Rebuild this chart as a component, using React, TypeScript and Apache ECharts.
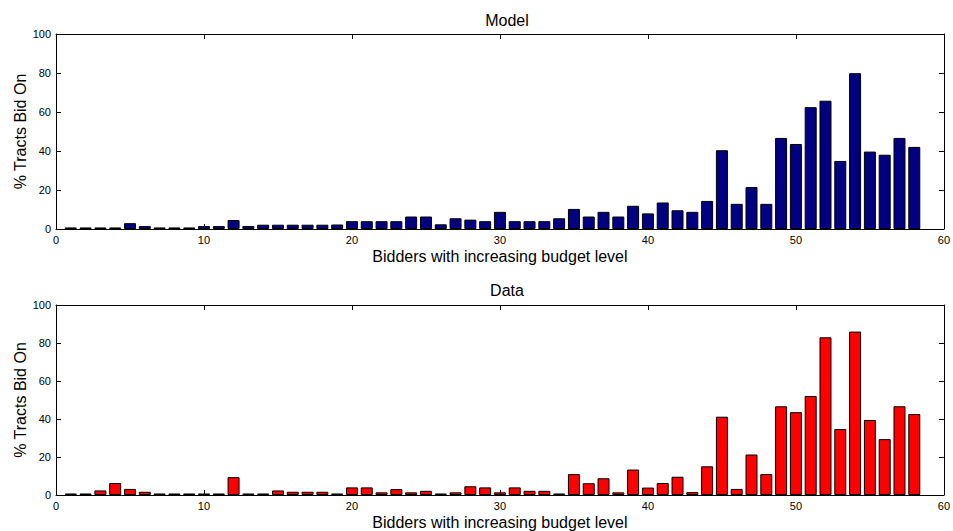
import React, { useEffect, useRef } from "react";
import * as echarts from "echarts";

const bidders = [
  1, 2, 3, 4, 5, 6, 7, 8, 9, 10, 11, 12, 13, 14, 15, 16, 17, 18, 19, 20,
  21, 22, 23, 24, 25, 26, 27, 28, 29, 30, 31, 32, 33, 34, 35, 36, 37, 38, 39, 40,
  41, 42, 43, 44, 45, 46, 47, 48, 49, 50, 51, 52, 53, 54, 55, 56, 57, 58,
];

const modelValues = [
  0.8, 0.8, 0.8, 0.8, 3, 1.5, 0.8, 0.8, 0.8, 1.5, 1.5, 4.6, 1.5, 2.2, 2.2, 2.2, 2.2, 2.2, 2.3, 4,
  4, 4, 4, 6.4, 6.4, 2.4, 5.5, 4.8, 4, 8.8, 4, 4, 4, 5.5, 10.3, 6.4, 8.8, 6.4, 11.9, 8,
  13.6, 9.6, 8.8, 14.4, 40.4, 12.9, 21.5, 12.9, 46.7, 43.6, 62.5, 65.8, 34.9, 79.9, 39.7, 38.1, 46.7, 42.1,
];

const dataValues = [
  0.8, 0.8, 2.4, 6.3, 3.2, 1.7, 0.8, 0.8, 0.8, 0.8, 0.8, 9.4, 0.8, 0.8, 2.4, 1.7, 1.7, 1.7, 0.8, 4,
  4, 1.4, 3.1, 1.4, 2.2, 0.8, 1.4, 4.6, 4, 1.4, 4, 2.2, 2.2, 0.8, 11, 6.2, 8.8, 1.4, 13.4, 3.9,
  6.3, 9.6, 1.5, 15.1, 41.2, 3.2, 21.3, 11, 46.7, 43.6, 52.1, 83, 34.7, 86, 39.5, 29.4, 46.7, 42.6,
];

const titles = ["Model", "Data"];
const xAxisName = "Bidders with increasing budget level";
const yAxisName = "% Tracts Bid On";

const FONT = "'Liberation Sans', Arial, Helvetica, sans-serif";

export default function App() {
  const ref = useRef<HTMLDivElement>(null);

  useEffect(() => {
    if (!ref.current) return;
    const chart = echarts.init(ref.current, null, { renderer: "svg" });

    const grids = [
      { left: 56, right: 4, top: 34, height: 195 },
      { left: 56, right: 4, top: 305, height: 194 },
    ];

    const axisLine = { show: true, onZero: false, lineStyle: { color: "#000", width: 1 } };
    const tick = { show: true, inside: true, length: 5, lineStyle: { color: "#000" } };
    const label = { fontSize: 11, color: "#000", fontFamily: FONT };
    const nameStyle = { fontSize: 16, color: "#000", fontFamily: FONT };

    const xAxes: any[] = [];
    const yAxes: any[] = [];
    [0, 1].forEach((g) => {
      xAxes.push({
        type: "value",
        gridIndex: g,
        min: 0,
        max: 60,
        interval: 10,
        position: "bottom",
        axisLine,
        axisTick: tick,
        axisLabel: { ...label, margin: 5 },
        splitLine: { show: false },
        name: xAxisName,
        nameLocation: "middle",
        nameGap: 19,
        nameMoveOverlap: false,
        nameTextStyle: nameStyle,
      });
      xAxes.push({
        type: "value",
        gridIndex: g,
        min: 0,
        max: 60,
        interval: 10,
        position: "top",
        axisLine,
        axisTick: tick,
        axisLabel: { show: false },
        splitLine: { show: false },
      });
      yAxes.push({
        type: "value",
        gridIndex: g,
        min: 0,
        max: 100,
        interval: 20,
        position: "left",
        axisLine,
        axisTick: tick,
        axisLabel: { ...label, margin: 5 },
        splitLine: { show: false },
        name: yAxisName,
        nameLocation: "middle",
        nameGap: 28,
        nameMoveOverlap: false,
        nameRotate: 90,
        nameTextStyle: nameStyle,
      });
      yAxes.push({
        type: "value",
        gridIndex: g,
        min: 0,
        max: 100,
        interval: 20,
        position: "right",
        axisLine,
        axisTick: tick,
        axisLabel: { show: false },
        splitLine: { show: false },
      });
    });

    const mk = (vals: number[], idx: number, color: string) => ({
      type: "bar",
      xAxisIndex: idx * 2,
      yAxisIndex: idx * 2,
      barWidth: 12,
      data: bidders.map((b, i) => [b, vals[i]]),
      itemStyle: { color, borderColor: "#000", borderWidth: 1 },
      silent: true,
    });

    const titleStyle = { fontSize: 16, fontWeight: "normal", color: "#000", fontFamily: FONT };

    chart.setOption({
      animation: false,
      backgroundColor: "#fff",
      title: [
        { text: titles[0], left: 502, top: 7, textAlign: "center", textStyle: titleStyle },
        { text: titles[1], left: 502, top: 277, textAlign: "center", textStyle: titleStyle },
      ],
      grid: grids,
      xAxis: xAxes,
      yAxis: yAxes,
      series: [mk(modelValues, 0, "#000080"), mk(dataValues, 1, "#ff0000")],
    });

    return () => chart.dispose();
  }, []);

  return (
    <div
      ref={ref}
      style={{ position: "fixed", left: 0, top: 0, width: 953, height: 531, background: "#fff" }}
    />
  );
}
